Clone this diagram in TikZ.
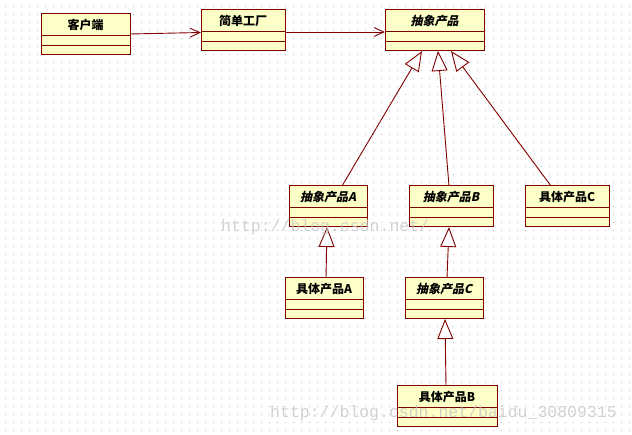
\documentclass[tikz,border=0pt]{standalone}
\usepackage{fontspec}
\newfontfamily\cjk{Noto Sans CJK SC}
\newfontfamily\cjksl{Noto Sans CJK SC}[FakeSlant=0.22]
\newfontfamily\wmfont{Liberation Mono}
\usetikzlibrary{arrows.meta,calc}
\definecolor{umlred}{RGB}{128,0,0}
\definecolor{umlfill}{RGB}{255,255,200}
\definecolor{dotc}{RGB}{185,185,185}
\definecolor{wmc}{RGB}{195,195,195}
\newcommand\umlclass[6]{%
  \node[cls, minimum width=#4pt] (#1) at (#2,#3) {};
  \node[#5] (#1-name) at ($(#1.north)+(0,11)$) {#6};
  \draw[sepline] ($(#1.north west)+(0,22)$) -- ($(#1.north east)+(0,22)$);
  \draw[sepline] ($(#1.north west)+(0,31.5)$) -- ($(#1.north east)+(0,31.5)$);
}
\begin{document}
\begin{tikzpicture}[x=1pt,y=-1pt,
  cls/.style={draw=umlred, fill=umlfill, line width=1pt, anchor=north west, minimum height=41pt, inner sep=0pt, outer sep=0pt},
  lbl/.style={font=\cjk\bfseries\fontsize{12}{14}\selectfont, inner sep=0pt, text=black},
  albl/.style={font=\cjksl\bfseries\fontsize{12}{14}\selectfont, inner sep=0pt, text=black},
  sepline/.style={draw=umlred, line width=1pt},
  assoc/.style={draw=umlred, line width=0.9pt, -{Straight Barb[length=10pt,width=9pt]}},
  gen/.style={draw=umlred, line width=0.9pt, -{Triangle[length=20pt, width=16pt, fill=white]}},
  wm/.style={font=\wmfont\fontsize{16.5}{18}\selectfont, text=wmc, text opacity=0.75, anchor=base west, inner sep=0pt}
]
\fill[white] (0,0) rectangle (632,435);
\useasboundingbox (0,0) rectangle (632,435);
% dot grid
\foreach \i in {0,...,78}{
  \foreach \j in {0,...,53}{
    \fill[dotc] ({5+8*\i},{6+8*\j}) rectangle +(1,1);
  }
}
% classes
\umlclass{client}{41}{14}{89}{lbl}{客户端}
\umlclass{factory}{201}{10}{84}{lbl}{简单工厂}
\umlclass{abs}{385}{10}{99}{albl}{抽象产品}
\umlclass{absA}{289}{186}{78}{albl}{抽象产品A}
\umlclass{absB}{409}{186}{84}{albl}{抽象产品B}
\umlclass{conC}{525}{186}{84}{lbl}{具体产品C}
\umlclass{conA}{285}{278}{78}{lbl}{具体产品A}
\umlclass{absC}{405}{278}{78}{albl}{抽象产品C}
\umlclass{conB}{397}{386}{100}{lbl}{具体产品B}
% associations
\draw[assoc] ($(client.north east)+(0,20)$) -- ($(factory.north west)+(0,22.5)$);
\draw[assoc] ($(factory.north east)+(0,22)$) -- ($(abs.north west)+(0,22)$);
% generalizations
\draw[gen] ($(absA.north west)+(53,0)$) -- ($(abs.south west)+(37,0)$);
\draw[gen] ($(absB.north west)+(40,0)$) -- ($(abs.south west)+(53,0)$);
\draw[gen] ($(conC.north west)+(26,0)$) -- ($(abs.south west)+(66,0)$);
\draw[gen] ($(conA.north west)+(41,0)$) -- ($(absA.south west)+(38,0)$);
\draw[gen] ($(absC.north west)+(42,0)$) -- ($(absB.south west)+(40,0)$);
\draw[gen] ($(conB.north west)+(49,0)$) -- ($(absC.south west)+(40,0)$);
% watermarks
\node[wm] (wm1) at (221,232) {http://blog.csdn.net/};
\node[wm] (wm2) at (270,418) {http://blog.csdn.net/baidu\_30809315};
\end{tikzpicture}
\end{document}
